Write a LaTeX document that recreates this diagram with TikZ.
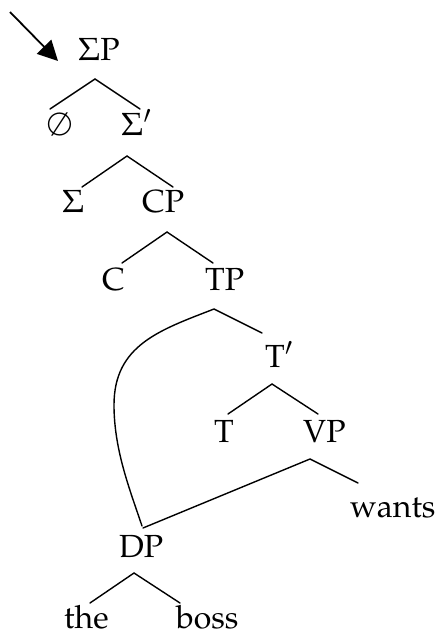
\documentclass[tikz,border=0pt]{standalone}
\usepackage[T1]{fontenc}
\usepackage{mathpazo}
\usetikzlibrary{arrows.meta}
\begin{document}
\begin{tikzpicture}[x=1pt,y=-1pt,
  lab/.style={inner sep=0pt, anchor=base west, font=\fontsize{32}{38}\selectfont},
  edge/.style={line width=1.4pt, line cap=round}]
\useasboundingbox (0,0) rectangle (440,633);
% labels
\node[lab] (sp) at (78,60) {$\Sigma$P};
\node[lab] (null) at (47,135) {$\emptyset$};
\node[lab] (sbar) at (121,135) {$\Sigma'$};
\node[lab] (sig) at (62,212) {$\Sigma$};
\node[lab] (cp) at (142,212) {CP};
\node[lab] (c) at (102,290) {C};
\node[lab] (tp) at (205,290) {TP};
\node[lab] (tbar) at (265,367) {T$'$};
\node[lab] (t) at (214,442) {T};
\node[lab] (vp) at (303,442) {VP};
\node[lab] (wants) at (350,517) {wants};
\node[lab] (dp) at (119,557) {DP};
\node[lab] (the) at (64,628) {the};
\node[lab] (boss) at (176,628) {boss};
% branch points
\coordinate (spA) at (95,79);   \coordinate (spL) at (50,109);  \coordinate (spR) at (140,109);
\coordinate (sbA) at (127,156); \coordinate (sbL) at (82,187);  \coordinate (sbR) at (173,187);
\coordinate (cpA) at (167,232); \coordinate (cpL) at (122,263); \coordinate (cpR) at (213,263);
\coordinate (tpA) at (214,309); \coordinate (tpR) at (262,333); \coordinate (dpT) at (142,526);
\coordinate (tbA) at (272,384); \coordinate (tbL) at (228,414); \coordinate (tbR) at (318,414);
\coordinate (vpA) at (310,459); \coordinate (vpR) at (358,483); \coordinate (dpT2) at (143,528);
\coordinate (dpA) at (134,573); \coordinate (dpL) at (90,603);  \coordinate (dpR) at (180,603);
\coordinate (arS) at (10,12);   \coordinate (arE) at (58,61);
% edges
\draw[edge] (spL) -- (spA) -- (spR);
\draw[edge] (sbL) -- (sbA) -- (sbR);
\draw[edge] (cpL) -- (cpA) -- (cpR);
\draw[edge] (tpR) -- (tpA) .. controls (160,330) and (114,345) .. (114,405)
  .. controls (114,450) and (130,490) .. (dpT);
\draw[edge] (tbL) -- (tbA) -- (tbR);
\draw[edge] (dpT2) -- (vpA) -- (vpR);
\draw[edge] (dpL) -- (dpA) -- (dpR);
\draw[line width=1.8pt, -{Triangle[length=20pt,width=20pt]}] (arS) -- (arE);
\end{tikzpicture}
\end{document}
